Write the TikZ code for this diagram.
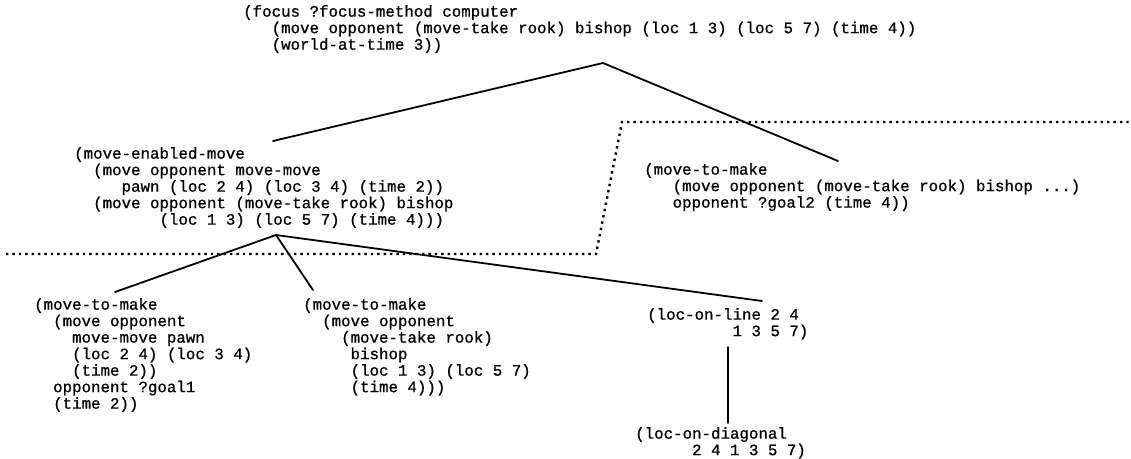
\documentclass[tikz,border=0pt]{standalone}
\usepackage{fontspec}
\newfontfamily\termfont{Liberation Mono}[FakeBold=0.8]
\newcommand\ind[1]{\hspace*{#1\dimexpr0.6em\relax}}
\tikzset{
  term/.style={anchor=north west, inner sep=0pt, align=left,
    font=\termfont\fontsize{15.8}{16.5}\selectfont},
  link/.style={line width=1.8pt, line cap=round, line join=round},
  cut/.style={line width=2.4pt, dash pattern=on 2.4pt off 4pt}
}
\begin{document}
\begin{tikzpicture}[x=1pt,y=-1pt]
  \useasboundingbox (0,0) rectangle (1131,458);
  % terms
  \node[term] (focus) at (243,5) {(focus ?focus-method computer\\
    \ind{3}(move opponent (move-take rook) bishop (loc 1 3) (loc 5 7) (time 4))\\
    \ind{3}(world-at-time 3))};
  \node[term] (enabled) at (74,147) {(move-enabled-move\\
    \ind{2}(move opponent move-move\\
    \ind{5}pawn (loc 2 4) (loc 3 4) (time 2))\\
    \ind{2}(move opponent (move-take rook) bishop\\
    \ind{9}(loc 1 3) (loc 5 7) (time 4)))};
  \node[term] (make2) at (644,163) {(move-to-make\\
    \ind{3}(move opponent (move-take rook) bishop ...)\\
    \ind{3}opponent ?goal2 (time 4))};
  \node[term] (make1) at (34,298) {(move-to-make\\
    \ind{2}(move opponent\\
    \ind{4}move-move pawn\\
    \ind{4}(loc 2 4) (loc 3 4)\\
    \ind{4}(time 2))\\
    \ind{2}opponent ?goal1\\
    \ind{2}(time 2))};
  \node[term] (take) at (303,298) {(move-to-make\\
    \ind{2}(move opponent\\
    \ind{4}(move-take rook)\\
    \ind{5}bishop\\
    \ind{5}(loc 1 3) (loc 5 7)\\
    \ind{5}(time 4)))};
  \node[term] (online) at (647,308) {(loc-on-line 2 4\\
    \ind{9}1 3 5 7)};
  \node[term] (diag) at (635,427) {(loc-on-diagonal\\
    \ind{6}2 4 1 3 5 7)};
  % branch points and line ends
  \coordinate (focus-root) at (603,63);
  \coordinate (enabled-in) at (273,141);
  \coordinate (make2-in) at (838,161);
  \coordinate (enabled-root) at (276,235);
  \coordinate (make1-in) at (115,292);
  \coordinate (take-in) at (313,290);
  \coordinate (online-in) at (762,301);
  \coordinate (online-out) at (728,347);
  \coordinate (diag-in) at (728,423);
  \draw[link] (enabled-in) -- (focus-root) -- (make2-in);
  \draw[link] (make1-in) -- (enabled-root) -- (take-in);
  \draw[link] (enabled-root) -- (online-in);
  \draw[link] (online-out) -- (diag-in);
  % cut
  \coordinate (cut-l) at (6,254);
  \coordinate (cut-b) at (596,254);
  \coordinate (cut-t) at (622,122);
  \coordinate (cut-r) at (1129,122);
  \draw[cut] (cut-l) -- (cut-b) -- (cut-t) -- (cut-r);
\end{tikzpicture}
\end{document}
